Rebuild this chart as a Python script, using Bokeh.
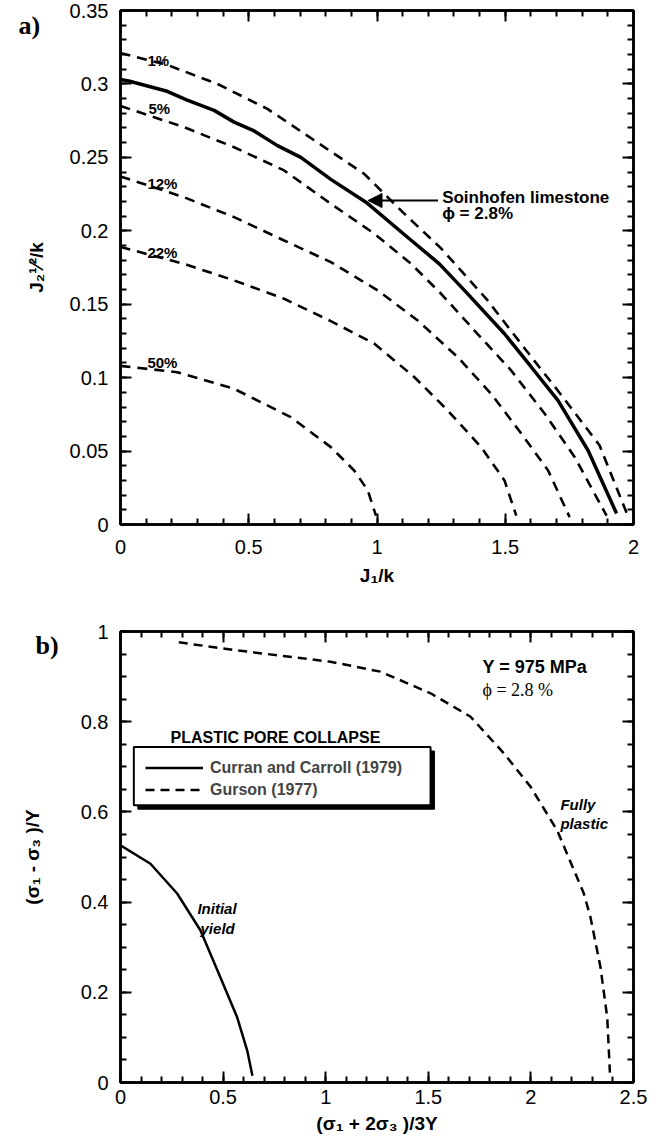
from math import pi

from bokeh.embed import file_html
from bokeh.layouts import column
from bokeh.models import (Arrow, BoxAnnotation, CustomJSTickFormatter, Label,
                          Legend, LegendItem, LinearAxis, NormalHead,
                          NumeralTickFormatter, Range1d, SingleIntervalTicker)
from bokeh.plotting import figure
from bokeh.resources import INLINE

SANS = "Liberation Sans"
SERIF = "Liberation Serif"

# ---------------- panel a: yield surfaces in J1/k vs sqrt(J2)/k ----------------
# Solnhofen limestone (phi = 2.8 %)
solnhofen_j1 = [0.0, 0.032, 0.182, 0.26, 0.365, 0.443, 0.521, 0.612, 0.703, 0.82,
                0.957, 1.126, 1.243, 1.341, 1.497, 1.602, 1.706, 1.823, 1.934]
solnhofen_j2 = [0.303, 0.302, 0.295, 0.289, 0.282, 0.274, 0.268, 0.258, 0.250, 0.235,
                0.2195, 0.1946, 0.1775, 0.1594, 0.1299, 0.1071, 0.0844, 0.0504, 0.0075]

# porosity curves
p1_j1 = [0.0, 0.182, 0.378, 0.573, 0.82, 0.95, 1.1, 1.25, 1.426, 1.582, 1.725, 1.868, 1.973]
p1_j2 = [0.321, 0.313, 0.300, 0.283, 0.254, 0.2388, 0.2127, 0.188, 0.1537, 0.1185, 0.0867, 0.0538, 0.008]

p5_j1 = [0.0, 0.247, 0.443, 0.638, 0.82, 0.99, 1.133, 1.25, 1.38, 1.523, 1.654, 1.771, 1.895]
p5_j2 = [0.285, 0.2706, 0.2569, 0.2411, 0.2184, 0.198, 0.1775, 0.1571, 0.1321, 0.1049, 0.0754, 0.0458, 0.006]

p12_j1 = [0.0, 0.247, 0.443, 0.638, 0.82, 1.003, 1.159, 1.315, 1.445, 1.563, 1.667, 1.751]
p12_j2 = [0.237, 0.2229, 0.2093, 0.1934, 0.1787, 0.1594, 0.1389, 0.1139, 0.089, 0.0618, 0.0368, 0.005]

p22_j1 = [0.0, 0.247, 0.443, 0.638, 0.82, 0.99, 1.146, 1.276, 1.406, 1.497, 1.543]
p22_j2 = [0.189, 0.1775, 0.1662, 0.1537, 0.1385, 0.1231, 0.1003, 0.0776, 0.0527, 0.030, 0.006]

p50_j1 = [0.0, 0.221, 0.443, 0.664, 0.82, 0.911, 0.964, 0.996]
p50_j2 = [0.108, 0.1037, 0.0924, 0.0731, 0.0527, 0.0368, 0.0232, 0.006]

porosity_labels = ["1%", "5%", "12%", "22%", "50%"]
porosity_label_x = [0.105, 0.109, 0.105, 0.105, 0.105]
porosity_label_y = [0.316, 0.2833, 0.2322, 0.1852, 0.1103]

# ---------------- panel b: plastic pore collapse ----------------
curran_p = [0.0, 0.146, 0.276, 0.39, 0.487, 0.569, 0.618, 0.643]
curran_q = [0.526, 0.485, 0.419, 0.337, 0.233, 0.144, 0.070, 0.015]

gurson_p = [0.284, 0.553, 1.023, 1.267, 1.511, 1.706, 1.868, 1.998, 2.128, 2.258,
            2.29, 2.339, 2.372, 2.385]
gurson_q = [0.976, 0.959, 0.933, 0.911, 0.863, 0.811, 0.730, 0.656, 0.559, 0.419,
            0.367, 0.256, 0.144, 0.022]


def make_label(x, y, text, size, style="bold", font=SANS, units="data"):
    return Label(x=x, y=y, x_units=units, y_units=units, text=text,
                 text_font=font, text_font_size=f"{size}px",
                 text_font_style=style, text_color="black",
                 text_align="left", text_baseline="alphabetic")


def label(p, x, y, text, size, style="bold", font=SANS):
    p.add_layout(make_label(x, y, text, size, style, font))


def panel_tag(p, x, y, text):
    # tag drawn in canvas pixels from a side panel so it can sit beside the frame
    p.add_layout(make_label(x, y, text, 26, font=SERIF, units="canvas"), "right")


def add_axes(p, xint, xminor, yint, yminor, xfmt, yfmt, xstand, ystand,
             xtitle, ytitle, xtitle_stand, ytitle_stand):
    xt = SingleIntervalTicker(interval=xint, num_minor_ticks=xminor)
    yt = SingleIntervalTicker(interval=yint, num_minor_ticks=yminor)
    blank = CustomJSTickFormatter(code="return ''")
    for side, ticker, fmt, stand, title, tstand in (
            ("below", xt, xfmt, xstand, xtitle, xtitle_stand),
            ("left", yt, yfmt, ystand, ytitle, ytitle_stand),
            ("above", xt, None, 0, None, 0),
            ("right", yt, None, 0, None, 0)):
        ax = LinearAxis(ticker=ticker)
        ax.axis_line_width = 2.5
        ax.axis_line_color = "black"
        ax.major_tick_in = 11
        ax.major_tick_out = 0
        ax.minor_tick_in = 6
        ax.minor_tick_out = 0
        ax.major_tick_line_width = 2
        ax.minor_tick_line_width = 2
        ax.major_tick_line_color = "black"
        ax.minor_tick_line_color = "black"
        if fmt is None:
            ax.formatter = blank
            ax.major_label_text_font_size = "1px"
            ax.major_label_standoff = 0
        else:
            ax.formatter = NumeralTickFormatter(format=fmt)
            ax.major_label_text_font = SANS
            ax.major_label_text_font_size = "20px"
            ax.major_label_text_color = "black"
            ax.major_label_standoff = stand
            if side == "left":
                ax.major_label_text_baseline = "top"
            ax.axis_label = title
            ax.axis_label_text_font = SANS
            ax.axis_label_text_font_style = "bold"
            ax.axis_label_text_font_size = "19px"
            ax.axis_label_text_color = "black"
            ax.axis_label_standoff = tstand
        p.add_layout(ax, side)


def base_figure(xr, yr, fh, top, bottom):
    p = figure(frame_width=513, frame_height=fh, x_range=xr, y_range=yr,
               min_border_left=120, min_border_right=26, min_border_top=top,
               min_border_bottom=bottom, toolbar_location=None, output_backend="svg",
               x_axis_type=None, y_axis_type=None)
    p.outline_line_color = "black"
    p.outline_line_width = 2.5
    p.background_fill_color = "white"
    p.border_fill_color = "white"
    return p


# ---------------- panel a ----------------
pa = base_figure(Range1d(0, 2), Range1d(0, 0.35001), 514, 10, 76)
add_axes(pa, 0.5, 5, 0.05, 5, "0.[0]", "0.[00]", 15, 12,
         "J\u2081/k", "J\u2082\u00b9\u2044\u00b2/k", 8, 20)

dash_a = "10 7"
for xs, ys in ((p1_j1, p1_j2), (p5_j1, p5_j2), (p12_j1, p12_j2),
               (p22_j1, p22_j2), (p50_j1, p50_j2)):
    pa.line(xs, ys, line_color="black", line_width=2.6, line_dash=dash_a)
pa.line(solnhofen_j1, solnhofen_j2, line_color="black", line_width=3.5)

for t, x, y in zip(porosity_labels, porosity_label_x, porosity_label_y):
    label(pa, x, y, t, 15)

pa.add_layout(Arrow(end=NormalHead(size=14, fill_color="black", line_color="black"),
                    x_start=1.238, y_start=0.2206, x_end=0.965, y_end=0.2206,
                    line_color="black", line_width=2))
label(pa, 1.254, 0.2227, "Soinhofen limestone", 17)
label(pa, 1.254, 0.2116, "ϕ = 2.8%", 17)
panel_tag(pa, 18, 25, "a)")

# ---------------- panel b ----------------
pb = base_figure(Range1d(0, 2.5), Range1d(0, 1), 451, 31, 64)
add_axes(pb, 0.5, 5, 0.2, 4, "0.[0]", "0.[0]", 7, 12,
         "(σ\u2081 + 2σ\u2083 )/3Y", "(σ\u2081 - σ\u2083 )/Y", 6, 35)

r_curran = pb.line(curran_p, curran_q, line_color="black", line_width=2.5)
r_gurson = pb.line(gurson_p, gurson_q, line_color="black", line_width=2.5, line_dash="9 6")

pb.add_layout(BoxAnnotation(left=0.0845, right=1.530, top=0.735, bottom=0.606,
                            fill_color="black", fill_alpha=1, line_color="black",
                            line_alpha=1))
pb.add_layout(BoxAnnotation(left=0.065, right=1.511, top=0.744, bottom=0.615,
                            fill_color="white", fill_alpha=1, line_color="black",
                            line_alpha=1, line_width=2))
legend = Legend(items=[LegendItem(label="Curran and Carroll (1979)", renderers=[r_curran]),
                       LegendItem(label="Gurson (1977)", renderers=[r_gurson])],
                location=(25, 283), padding=0, margin=0, spacing=3,
                glyph_width=58, glyph_height=19, label_height=19, label_standoff=7,
                label_text_font=SANS, label_text_font_style="bold",
                label_text_font_size="16px", background_fill_alpha=0,
                border_line_alpha=0)
pb.add_layout(legend)

label(pb, 0.2437, 0.766, "PLASTIC PORE COLLAPSE", 16)
label(pb, 1.764, 0.9216, "Y = 975 MPa", 18)
label(pb, 1.764, 0.870, "ϕ = 2.8 %", 18, style="normal", font=SERIF)
label(pb, 2.144, 0.617, "Fully", 15, style="bold italic")
label(pb, 2.144, 0.575, "plastic", 15, style="bold italic")
label(pb, 0.375, 0.386, "Initial", 15, style="bold italic")
label(pb, 0.39, 0.3416, "yield", 15, style="bold italic")
panel_tag(pb, 35, 45, "b)")

layout = column(pa, pb)
open("out.html", "w").write(file_html(layout, INLINE))
